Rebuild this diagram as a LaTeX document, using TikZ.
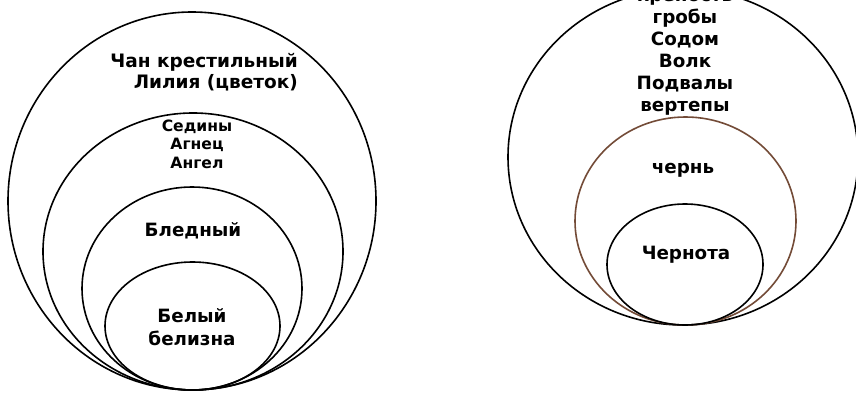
\documentclass[tikz,border=0pt]{standalone}
\usepackage{fontspec}
\setmainfont{DejaVu Sans}
\definecolor{brownline}{RGB}{115,75,55}
\tikzset{
  ring/.style={draw=black, line width=1.6pt},
  brownring/.style={draw=brownline, line width=1.6pt},
  big/.style={font=\bfseries\fontsize{18.3pt}{21.5pt}\selectfont, align=center, inner sep=0pt},
  small/.style={font=\bfseries\fontsize{15.6pt}{18.5pt}\selectfont, align=center, inner sep=0pt},
}
\begin{document}
\begin{tikzpicture}[x=1pt,y=-1pt]
\useasboundingbox (0,0) rectangle (856,396);
\clip (0,0) rectangle (856,396);
% left group
\draw[ring] (192,201) ellipse [x radius=184, y radius=189];
\draw[ring] (193,251.5) ellipse [x radius=150, y radius=138.5];
\draw[ring] (192,288.5) ellipse [x radius=110, y radius=101.5];
\draw[ring] (192.5,326) ellipse [x radius=87.5, y radius=64];
\node[big, align=right, anchor=east, font=\bfseries\fontsize{18.5pt}{21pt}\selectfont] (chan) at (298,72.5) {Чан крестильный\\Лилия (цветок)};
\node[small] (sed) at (197,144) {Седины\\Агнец\\Ангел};
\node[big] (bled) at (193,231) {Бледный};
\node[big, font=\bfseries\fontsize{18.3pt}{23pt}\selectfont] (bel) at (192,327.5) {Белый\\белизна};
% right group
\draw[ring] (683,157) ellipse [x radius=175, y radius=168];
\draw[brownring] (685.5,221) ellipse [x radius=110.5, y radius=104];
\draw[ring] (685,264.5) ellipse [x radius=78, y radius=60.5];
\node[big, font=\bfseries\fontsize{18.3pt}{22pt}\selectfont] (list) at (685,53) {крепость\\гробы\\Содом\\Волк\\Подвалы\\вертепы};
\node[big] (chern) at (683,170) {чернь};
\node[big] (chernota) at (686,255) {Чернота};
\end{tikzpicture}
\end{document}
